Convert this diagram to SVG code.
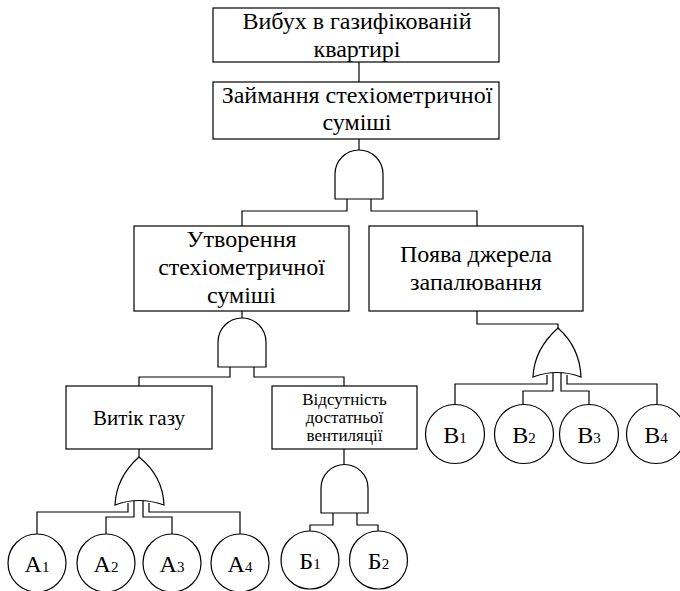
<svg xmlns="http://www.w3.org/2000/svg" width="680" height="591" viewBox="0 0 680 591">
<style>
.box{fill:#fff;stroke:#000;stroke-width:1.2}
.g{fill:#fff;stroke:#000;stroke-width:1.2}
.w{fill:none;stroke:#000;stroke-width:1.2}
.c{fill:#fff;stroke:#000;stroke-width:1.2}
text{font-family:"Liberation Serif","Times New Roman",serif;fill:#000;text-anchor:middle}
.t24{font-size:24px}
.t20{font-size:21px}
.t18{font-size:17px}
.lbl{font-size:24px}
.sub{font-size:15px}
</style>
<rect width="680" height="591" fill="#fff"/>
<g id="connectors">
<path class="w" d="M359,62 V82"/>
<path class="w" d="M359,139 V150"/>
<path class="w" d="M347,199 V211 H242 V226"/>
<path class="w" d="M371,199 V211 H477 V226"/>
<path class="w" d="M242,311 V318"/>
<path class="w" d="M230,367 V377 H139 V386"/>
<path class="w" d="M254,367 V377 H344 V386"/>
<path class="w" d="M139,449 V457"/>
<path class="w" d="M128,503 V512 H37 V534"/>
<path class="w" d="M134,501 V517 H106 V534"/>
<path class="w" d="M143,501 V517 H172 V534"/>
<path class="w" d="M149,503 V512 H240 V534"/>
<path class="w" d="M344,449 V464"/>
<path class="w" d="M333,513 V525 H310 V531"/>
<path class="w" d="M357,513 V525 H378 V531"/>
<path class="w" d="M477,311 V324 H558 V328"/>
<path class="w" d="M547,375 V384 H455 V404"/>
<path class="w" d="M553,373 V391 H523 V404"/>
<path class="w" d="M561,373 V391 H589 V404"/>
<path class="w" d="M567,375 V384 H657 V404"/>
</g>
<g id="top">
<rect class="box" x="213" y="8" width="286" height="54"/>
<text class="t24" x="357" y="29">Вибух в газифікованій</text>
<text class="t24" x="357" y="57">квартирі</text>
</g>
<g id="ignition">
<rect class="box" x="213" y="82" width="286" height="57"/>
<text class="t24" x="357" y="103">Займання стехіометричної</text>
<text class="t24" x="357" y="130">суміші</text>
</g>
<g id="and1">
<path class="g" d="M335,199 V174 A24,24 0 0 1 383,174 V199 Z"/>
</g>
<g id="mixture">
<rect class="box" x="134" y="226" width="215" height="85"/>
<text class="t24" x="241.5" y="247">Утворення</text>
<text class="t24" x="241.5" y="275">стехіометричної</text>
<text class="t24" x="241.5" y="303">суміші</text>
</g>
<g id="source">
<rect class="box" x="369" y="226" width="214" height="85"/>
<text class="t24" x="476" y="262">Поява джерела</text>
<text class="t24" x="476" y="290">запалювання</text>
</g>
<g id="and2">
<path class="g" d="M218,367 V342 A24,24 0 0 1 266,342 V367 Z"/>
</g>
<g id="leak">
<rect class="box" x="66" y="386" width="146" height="63"/>
<text class="t20" x="139" y="425">Витік газу</text>
</g>
<g id="vent">
<rect class="box" x="272" y="386" width="145" height="63"/>
<text class="t18" x="344.5" y="405">Відсутність</text>
<text class="t18" x="344.5" y="423">достатньої</text>
<text class="t18" x="344.5" y="441">вентиляції</text>
</g>
<g id="orA">
<path class="g" d="M139,457 C130,465 116,480 115,505 Q139,496 164,505 C163,480 149,465 139,457 Z"/>
</g>
<g id="and3">
<path class="g" d="M321,513 V488 A23.5,23.5 0 0 1 368,488 V513 Z"/>
</g>
<g id="orB">
<path class="g" d="M558,328 C549,336 534,352 533,377 Q557,368 581,377 C580,352 567,336 558,328 Z"/>
</g>
<g id="A1"><circle class="c" cx="37" cy="563" r="29"/><text class="lbl" x="37" y="572">A<tspan class="sub">1</tspan></text></g>
<g id="A2"><circle class="c" cx="106" cy="563" r="29"/><text class="lbl" x="106" y="572">A<tspan class="sub">2</tspan></text></g>
<g id="A3"><circle class="c" cx="172" cy="563" r="29"/><text class="lbl" x="172" y="572">A<tspan class="sub">3</tspan></text></g>
<g id="A4"><circle class="c" cx="240" cy="563" r="29"/><text class="lbl" x="240" y="572">A<tspan class="sub">4</tspan></text></g>
<g id="B1v"><circle class="c" cx="310" cy="560" r="29"/><text class="lbl" x="310" y="569">Б<tspan class="sub">1</tspan></text></g>
<g id="B2v"><circle class="c" cx="378.5" cy="560" r="29"/><text class="lbl" x="378.5" y="569">Б<tspan class="sub">2</tspan></text></g>
<g id="V1"><circle class="c" cx="455" cy="434" r="29.5"/><text class="lbl" x="455" y="443">B<tspan class="sub">1</tspan></text></g>
<g id="V2"><circle class="c" cx="524" cy="434" r="29.5"/><text class="lbl" x="524" y="443">B<tspan class="sub">2</tspan></text></g>
<g id="V3"><circle class="c" cx="589" cy="434" r="29.5"/><text class="lbl" x="589" y="443">B<tspan class="sub">3</tspan></text></g>
<g id="V4"><circle class="c" cx="656" cy="434" r="29.5"/><text class="lbl" x="656" y="443">B<tspan class="sub">4</tspan></text></g>
</svg>
